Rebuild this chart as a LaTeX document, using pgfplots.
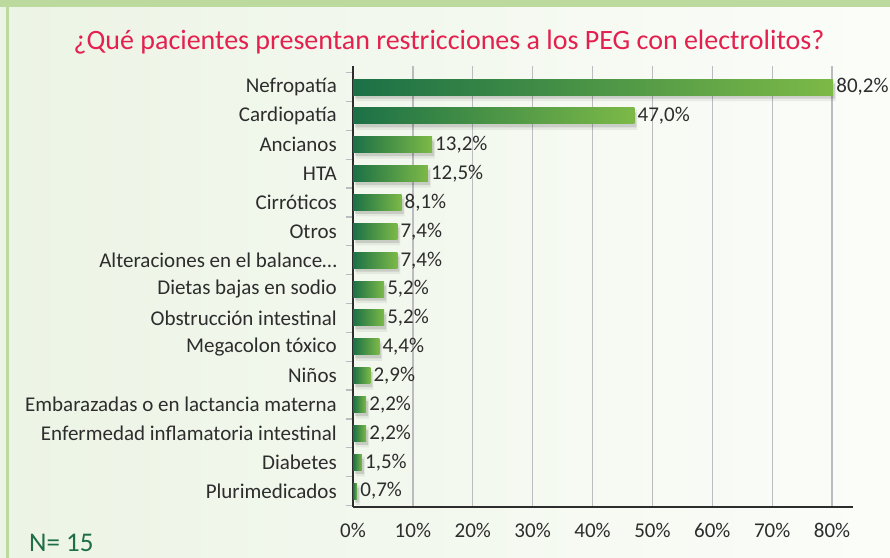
\documentclass[border=0pt]{standalone}
\usepackage{pgfplots}
\pgfplotsset{compat=1.18}
\usepackage{fontspec}
\setmainfont{Carlito}
\definecolor{titlered}{RGB}{227,32,78}
\definecolor{bardark}{RGB}{27,112,70}
\definecolor{barlight}{RGB}{124,185,71}
\definecolor{ngreen}{RGB}{31,110,69}
\definecolor{bandgreen}{RGB}{188,217,158}
\definecolor{bgleft}{RGB}{236,244,229}
\definecolor{bgright}{RGB}{251,253,249}
\definecolor{gridgray}{RGB}{188,188,192}
\definecolor{txt}{RGB}{45,45,45}
\pgfplotsset{
  gbar/.style={xbar, bar width=16bp, draw=none, left color=bardark, right color=barlight,
    nodes near coords={\pgfmathprintnumber[fixed,fixed zerofill,precision=1,use comma]{\pgfplotspointmeta}\%},
    nodes near coords style={anchor=west, inner sep=3bp, text=txt, font=\fontsize{21bp}{24bp}\selectfont, /pgf/number format/assume math mode=true}},
  sbar/.style={xbar, draw=none, fill=black, forget plot},
}
\begin{document}
\begin{tikzpicture}
\useasboundingbox (0,0) rectangle (890bp,558bp);
\fill[left color=bgleft, right color=bgright] (0,0) rectangle (890bp,558bp);
\fill[bandgreen] (0,551bp) rectangle (890bp,558bp);
\fill[bandgreen] (6bp,0) rectangle (9bp,551bp);
\node[anchor=base, text=titlered, font=\fontsize{28bp}{32bp}\selectfont, inner sep=0pt] at (449bp,508bp) {¿Qué pacientes presentan restricciones a los PEG con electrolitos?};
\node[anchor=base west, text=ngreen, font=\fontsize{27bp}{30bp}\selectfont, inner sep=0pt] at (29bp,7bp) {N= 15};
\begin{axis}[
  at={(353bp,51bp)}, anchor=south west,
  width=500bp, height=441bp, scale only axis,
  xmin=0, xmax=83.5,
  y dir=reverse, ymin=-0.728, ymax=14.55,
  axis x line*=bottom, axis y line*=left,
  axis line style={draw=txt, line width=1.5bp},
  x axis line style={-}, y axis line style={-},
  xtick={0,10,...,80},
  xticklabel={\pgfmathprintnumber{\tick}\%},
  /pgf/number format/assume math mode=true,
  xmajorgrids, major grid style={draw=gridgray, line width=1.3bp},
  ytick={0,...,14},
  yticklabels={Nefropatía,Cardiopatía,Ancianos,HTA,Cirróticos,Otros,Alteraciones en el balance…,Dietas bajas en sodio,Obstrucción intestinal,Megacolon tóxico,Niños,Embarazadas o en lactancia materna,Enfermedad inflamatoria intestinal,Diabetes,Plurimedicados},
  minor ytick={-0.5,0.5,...,14.5},
  major tick length=0pt, minor tick length=7bp, tick align=outside,
  minor tick style={draw=gridgray, line width=1.3bp},
  ticklabel style={font=\fontsize{21bp}{24bp}\selectfont, text=txt},
  yticklabel style={inner sep=0pt, xshift=-16bp},
  xticklabel style={inner sep=0pt, yshift=-16bp},
  clip=false,
]
% soft shadows
\addplot[sbar, bar width=20bp, opacity=0.06, xshift=3bp, yshift=-4bp] coordinates {
(80.2,0) (47.0,1) (13.2,2) (12.5,3) (8.1,4) (7.4,5) (7.4,6) (5.2,7) (5.2,8) (4.4,9) (2.9,10) (2.2,11) (2.2,12) (1.5,13) (0.7,14)};
\addplot[sbar, bar width=15bp, opacity=0.12, xshift=2bp, yshift=-4bp] coordinates {
(80.2,0) (47.0,1) (13.2,2) (12.5,3) (8.1,4) (7.4,5) (7.4,6) (5.2,7) (5.2,8) (4.4,9) (2.9,10) (2.2,11) (2.2,12) (1.5,13) (0.7,14)};
% bars, one per category so each has its own gradient
\addplot[gbar] coordinates {(80.2,0)};
\addplot[gbar] coordinates {(47.0,1)};
\addplot[gbar] coordinates {(13.2,2)};
\addplot[gbar] coordinates {(12.5,3)};
\addplot[gbar] coordinates {(8.1,4)};
\addplot[gbar] coordinates {(7.4,5)};
\addplot[gbar] coordinates {(7.4,6)};
\addplot[gbar] coordinates {(5.2,7)};
\addplot[gbar] coordinates {(5.2,8)};
\addplot[gbar] coordinates {(4.4,9)};
\addplot[gbar] coordinates {(2.9,10)};
\addplot[gbar] coordinates {(2.2,11)};
\addplot[gbar] coordinates {(2.2,12)};
\addplot[gbar] coordinates {(1.5,13)};
\addplot[gbar] coordinates {(0.7,14)};
\end{axis}
\end{tikzpicture}
\end{document}
